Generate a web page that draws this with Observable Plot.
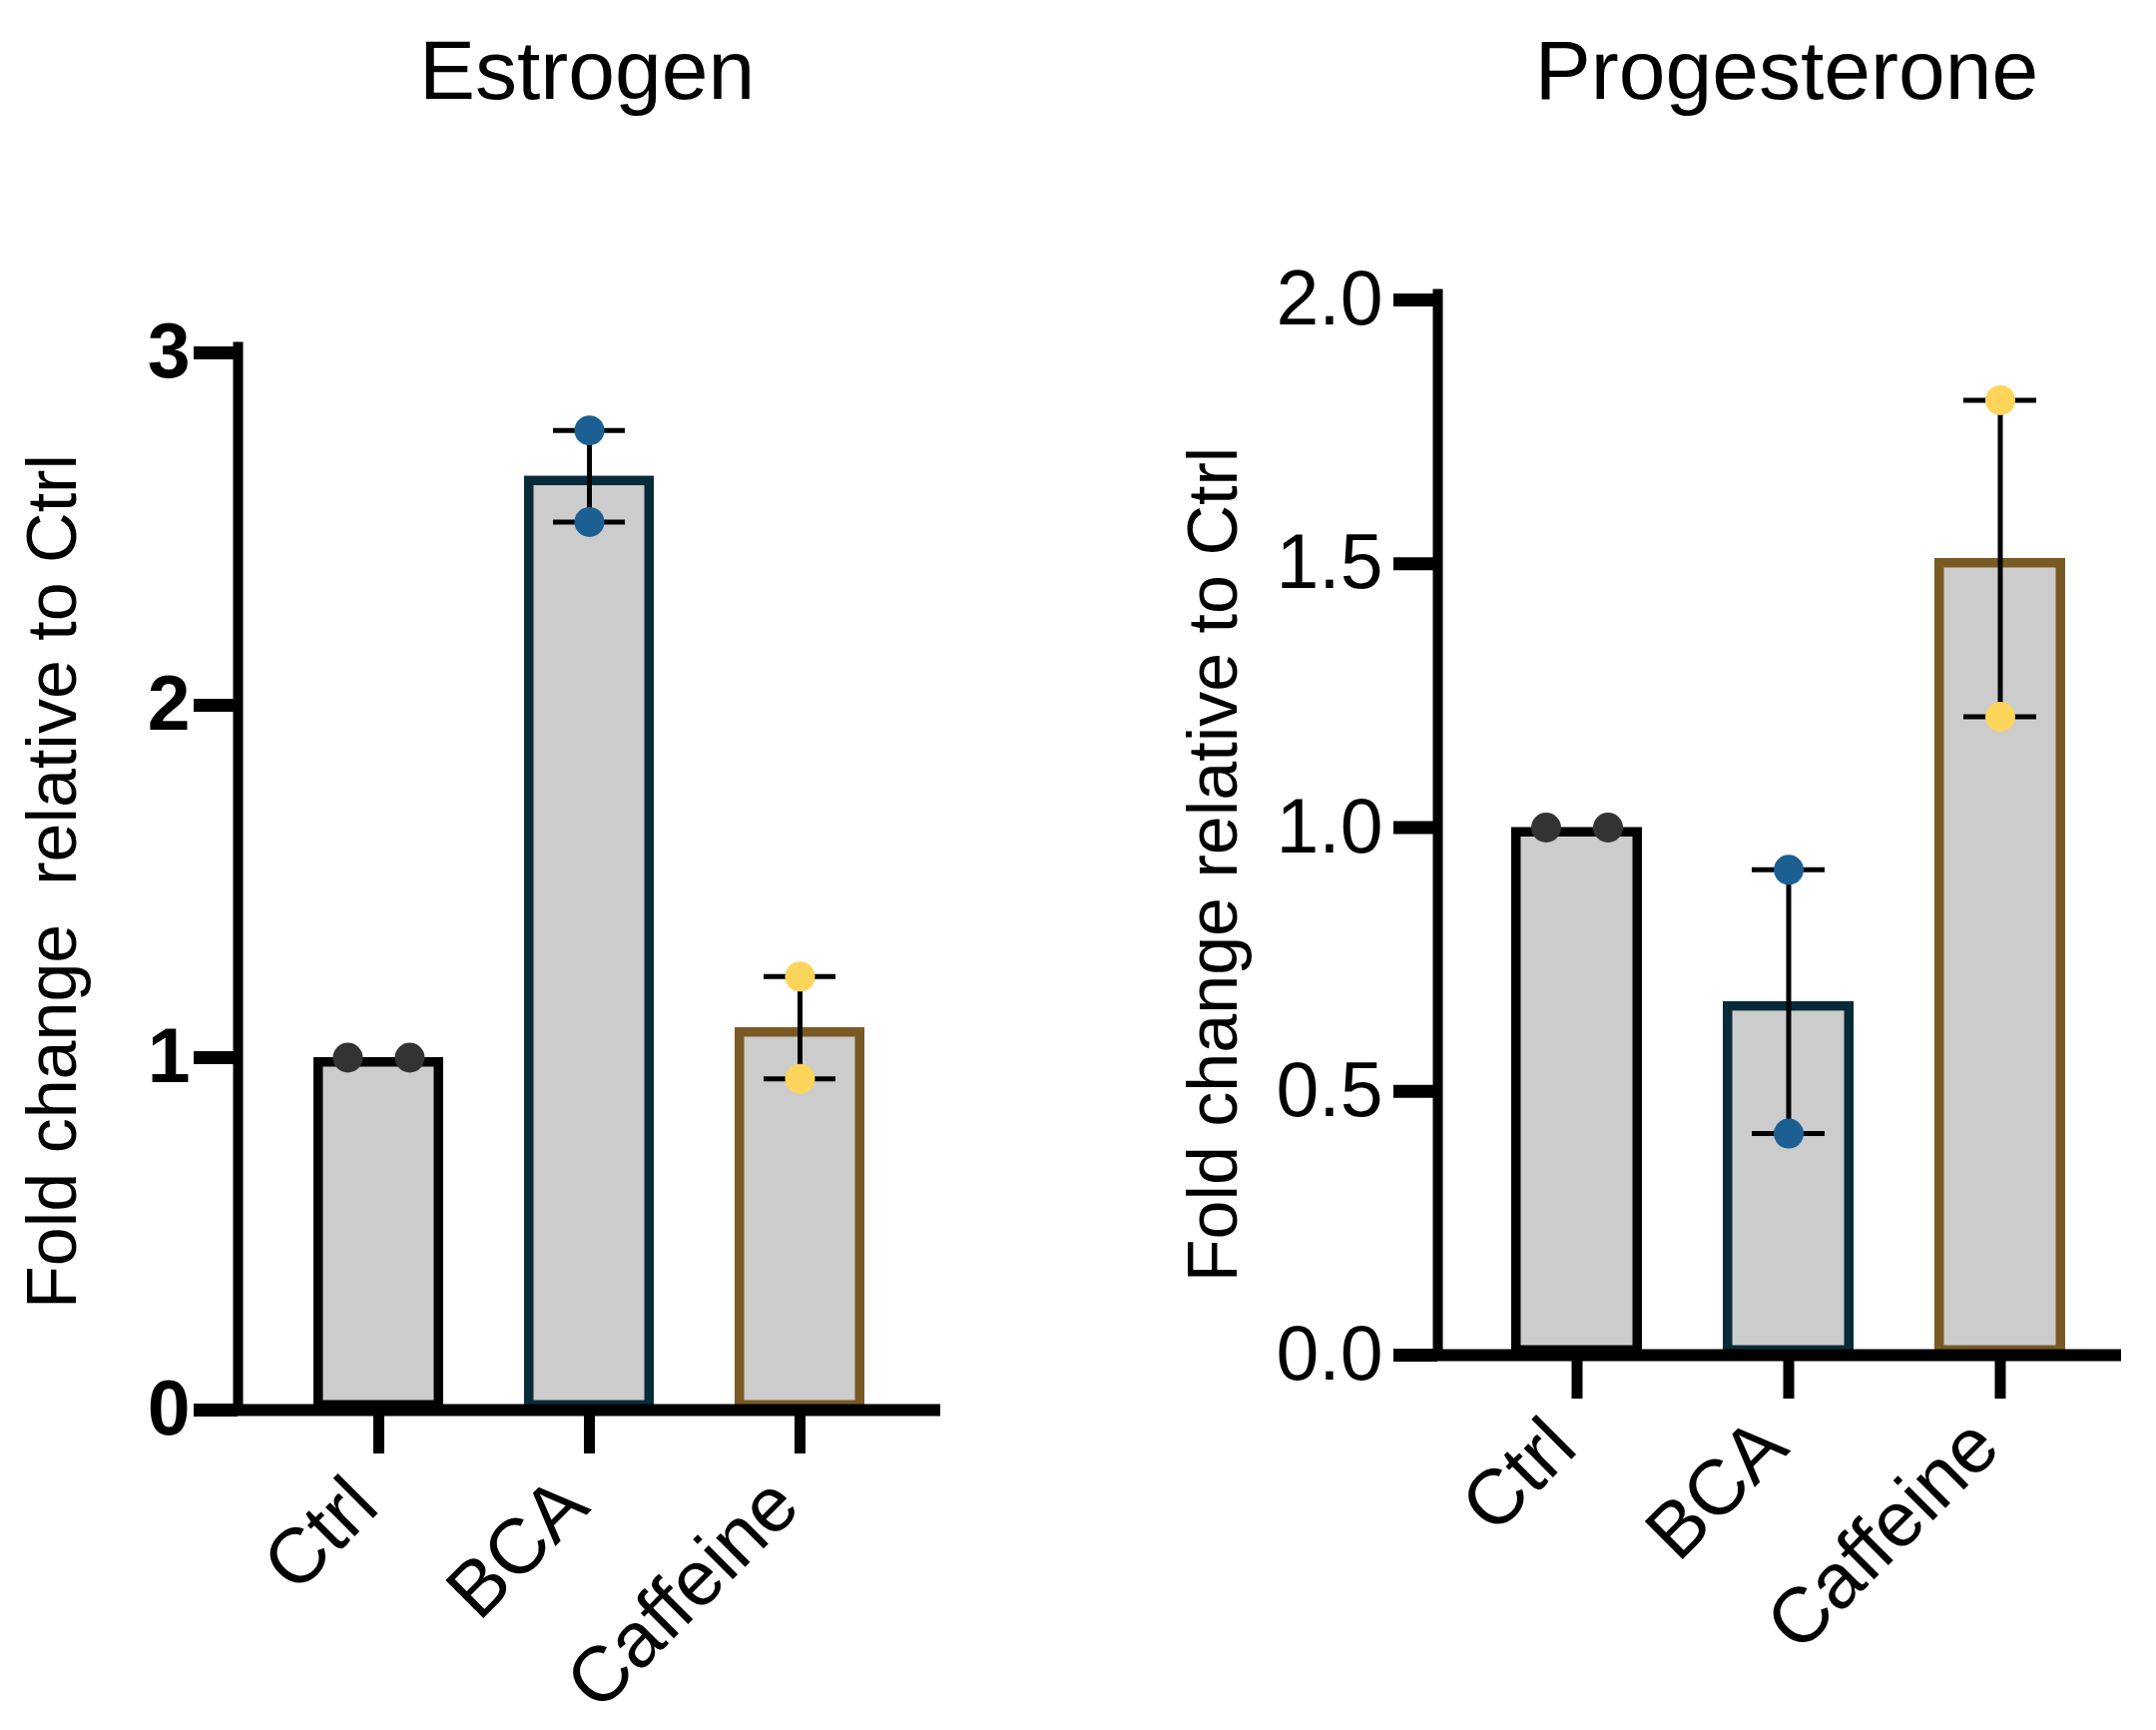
<!DOCTYPE html>
<html>
<head>
<meta charset="utf-8">
<script src="https://cdn.jsdelivr.net/npm/d3@7"></script>
<script src="https://cdn.jsdelivr.net/npm/@observablehq/plot@0.6"></script>
<style>
  body { margin: 0; background: #fff; font-family: "Liberation Sans", Arial, sans-serif; }
  #page { position: relative; width: 2160px; height: 1733px; overflow: hidden; background: #fff; }
  .panel { position: absolute; top: 0; width: 1080px; height: 1733px; }
  .title { position: absolute; top: 0; height: 140px; line-height: 140px; width: 800px;
           font-size: 84px; text-align: center; color: #000; }
  .chart { position: absolute; top: 140px; left: 0; }
</style>
</head>
<body>
<div id="page">
  <div class="panel" id="left" style="left:0"><div class="title" style="left:188px">Estrogen</div><div class="chart"></div></div>
  <div class="panel" id="right" style="left:1080px"><div class="title" style="left:310px">Progesterone</div><div class="chart"></div></div>
</div>
<script>
// ---- data ----
const groups = ["Ctrl", "BCA", "Caffeine"];
const estrogenRep1 = [1.00, 2.78, 1.23];
const estrogenRep2 = [1.00, 2.52, 0.94];
const progesteroneRep1 = [1.00, 0.92, 1.81];
const progesteroneRep2 = [1.00, 0.42, 1.21];
const estrogenTicks = [0, 1, 2, 3];
const progesteroneTicks = [0, 0.5, 1.0, 1.5, 2.0];
const titles = ["Estrogen", "Progesterone"];
const yLabels = ["Fold change\u00a0 relative to Ctrl", "Fold change relative to Ctrl"];
const barStrokes = ["#000000", "#082b3a", "#7a5a24"];
const dotFills = ["#333333", "#1c6093", "#fcd55a"];

function makePanel(o) {
  const pts = [];
  groups.forEach((g, i) => {
    pts.push({group: g, value: o.rep1[i], rep: 0, i});
    pts.push({group: g, value: o.rep2[i], rep: 1, i});
  });
  const summ = groups.map((g, i) => ({
    group: g, i,
    mean: d3.mean([o.rep1[i], o.rep2[i]]),
    lo: Math.min(o.rep1[i], o.rep2[i]),
    hi: Math.max(o.rep1[i], o.rep2[i])
  }));
  const tied = d => summ[d.i].lo === summ[d.i].hi;
  const spread = pts.filter(d => !tied(d));
  const font = "Liberation Sans, Arial, sans-serif";
  return Plot.plot({
    width: 1080, height: 1593,
    marginLeft: o.ml, marginRight: o.mr, marginTop: o.mt, marginBottom: o.mb,
    style: {fontFamily: font, background: "transparent", overflow: "visible", color: "#000"},
    x: {domain: groups, paddingInner: o.pi, paddingOuter: o.po, align: o.align, axis: null},
    y: {domain: o.domain, axis: null},
    color: {type: "identity"},
    marks: [
      Plot.barY(summ, {x: "group", y: "mean", fill: "#cccccc", stroke: d => barStrokes[d.i], strokeWidth: 9.5, inset: 4.75}),
      Plot.ruleX(summ.filter(d => d.hi > d.lo), {x: "group", y1: "lo", y2: "hi", stroke: "#000", strokeWidth: 5}),
      Plot.tickY(spread, {x: "group", y: "value", stroke: "#000", strokeWidth: 5, inset: o.capInset}),
      Plot.dot(spread, {x: "group", y: "value", r: 15, fill: d => dotFills[d.i], stroke: null}),
      Plot.dot(pts.filter(d => tied(d) && d.rep === 0), {x: "group", y: "value", r: 15, fill: d => dotFills[d.i], dx: -31}),
      Plot.dot(pts.filter(d => tied(d) && d.rep === 1), {x: "group", y: "value", r: 15, fill: d => dotFills[d.i], dx: 31}),
      Plot.frame({anchor: "left", strokeWidth: 10, stroke: "#000", insetTop: -6}),
      Plot.axisY({ticks: o.ticks, tickFormat: o.tickFormat, tickSize: 44, tickPadding: o.tp, strokeWidth: 13,
                  fontSize: 77, fontWeight: o.bold ? "bold" : "normal", label: null}),
      Plot.axisX({tickSize: 44, strokeWidth: 11, tickFormat: () => "", label: null}),
      Plot.axisX({tickSize: 0, tickRotate: -45, tickPadding: 44 + o.xtp, dx: -15, fontSize: 78, label: null}),
      Plot.ruleY([0], {insetLeft: -44, strokeWidth: 12, stroke: "#000"}),
      Plot.text([o.label], {text: d => d, frameAnchor: "left", textAnchor: "middle", rotate: -90, lineAnchor: "middle",
                            dx: o.ldx, dy: o.ldy, fontSize: 70, fill: "#000"})
    ]
  });
}

document.querySelector("#left .chart").append(makePanel({
  rep1: estrogenRep1, rep2: estrogenRep2, ticks: estrogenTicks, tickFormat: d3.format("d"), bold: true,
  domain: [0, 3], ml: 238, mr: 138, mt: 213, mb: 321, pi: 0.385, po: 0.357, align: 0.5,
  capInset: 29, tp: 4, xtp: 38, label: yLabels[0], ldx: -185, ldy: 0
}));
document.querySelector("#right .chart").append(makePanel({
  rep1: progesteroneRep1, rep2: progesteroneRep2, ticks: progesteroneTicks, tickFormat: d3.format(".1f"), bold: false,
  domain: [0, 2], ml: 360, mr: 35, mt: 160, mb: 376, pi: 0.3835, po: 0.3035, align: 0.566,
  capInset: 29, tp: 11, xtp: 34, label: yLabels[1], ldx: -224, ldy: 37
}));
</script>
</body>
</html>
